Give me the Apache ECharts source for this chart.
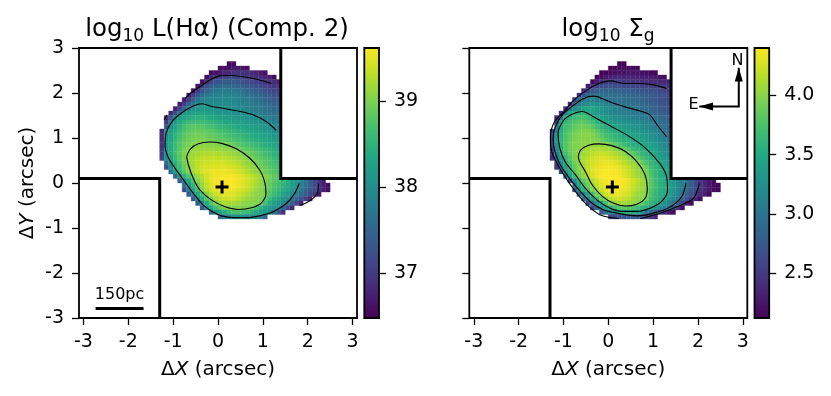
<!DOCTYPE html>
<html>
<head>
<meta charset="utf-8">
<style>
  html, body { margin: 0; padding: 0; background: #fff; }
  #chart { width: 831px; height: 396px; }
</style>
</head>
<body>
<div id="chart"></div>
<script src="https://cdn.jsdelivr.net/npm/echarts@6/dist/echarts.min.js"></script>
<script>
// cell centres, one entry per row from the top of the map down
const rowY = [2.65, 2.55, 2.45, 2.35, 2.25, 2.15, 2.05, 1.95, 1.85, 1.75, 1.65, 1.55, 1.45, 1.35, 1.25, 1.15, 1.05, 0.95, 0.85, 0.75, 0.65, 0.55, 0.45, 0.35, 0.25, 0.15, 0.05, -0.05, -0.15, -0.25, -0.35, -0.45, -0.55, -0.65, -0.75];
const rowStartX = [0.25, 0.05, -0.15, -0.25, -0.35, -0.45, -0.55, -0.65, -0.75, -0.85, -0.95, -1.05, -1.15, -1.15, -1.15, -1.25, -1.25, -1.25, -1.25, -1.25, -1.25, -1.25, -1.15, -1.15, -1.05, -0.95, -0.85, -0.75, -0.75, -0.65, -0.55, -0.45, -0.35, -0.15, 0.05];
const cellSize = 0.1;

// log L(Halpha)
const lhaRows = [
  [36.55, 36.55],
  [36.6, 36.62, 36.65, 36.68, 36.68, 36.65, 36.6],
  [36.55, 36.6, 36.7, 36.8, 36.85, 36.9, 36.92, 36.9, 36.88, 36.83, 36.78, 36.7, 36.6],
  [36.6, 36.85, 37.0, 37.1, 37.14, 37.17, 37.17, 37.12, 37.06, 37.0, 36.96, 36.92, 36.88, 36.82, 36.73, 36.6],
  [36.6, 36.9, 37.12, 37.25, 37.32, 37.37, 37.37, 37.35, 37.3, 37.25, 37.2, 37.13, 37.07, 37.0, 36.96, 36.92, 36.88, 36.75],
  [36.65, 37.0, 37.25, 37.42, 37.5, 37.55, 37.58, 37.58, 37.55, 37.5, 37.45, 37.38, 37.32, 37.25, 37.18, 37.12, 37.05, 37.0, 36.95],
  [36.65, 37.0, 37.3, 37.5, 37.62, 37.7, 37.75, 37.78, 37.76, 37.72, 37.67, 37.62, 37.55, 37.48, 37.42, 37.35, 37.27, 37.2, 37.13, 37.08],
  [36.7, 37.05, 37.35, 37.6, 37.75, 37.83, 37.88, 37.9, 37.92, 37.9, 37.87, 37.82, 37.76, 37.7, 37.65, 37.58, 37.5, 37.43, 37.35, 37.28, 37.22],
  [36.7, 37.05, 37.4, 37.65, 37.82, 37.88, 37.92, 37.94, 37.95, 37.95, 37.94, 37.92, 37.88, 37.83, 37.77, 37.72, 37.65, 37.58, 37.52, 37.45, 37.38, 37.32],
  [36.75, 37.05, 37.45, 37.75, 37.95, 38.02, 37.99, 37.98, 37.99, 37.98, 37.97, 37.96, 37.95, 37.93, 37.88, 37.83, 37.78, 37.72, 37.65, 37.6, 37.55, 37.47, 37.42],
  [36.75, 37.1, 37.5, 37.85, 38.03, 38.12, 38.15, 38.12, 38.08, 38.05, 38.02, 38.0, 37.98, 37.97, 37.95, 37.92, 37.88, 37.83, 37.78, 37.72, 37.66, 37.6, 37.55, 37.5],
  [36.8, 37.2, 37.75, 38.07, 38.18, 38.26, 38.3, 38.3, 38.26, 38.2, 38.16, 38.12, 38.09, 38.06, 38.03, 38.01, 37.99, 37.95, 37.9, 37.85, 37.8, 37.74, 37.68, 37.62, 37.57],
  [36.85, 37.35, 37.95, 38.15, 38.3, 38.38, 38.45, 38.47, 38.47, 38.42, 38.36, 38.32, 38.28, 38.24, 38.2, 38.17, 38.13, 38.1, 38.07, 38.04, 38.0, 37.95, 37.88, 37.8, 37.72, 37.65],
  [37.0, 37.95, 38.18, 38.36, 38.5, 38.58, 38.63, 38.65, 38.63, 38.58, 38.53, 38.48, 38.43, 38.38, 38.34, 38.3, 38.26, 38.22, 38.18, 38.15, 38.12, 38.07, 38.01, 37.93, 37.83, 37.73],
  [37.3, 38.05, 38.3, 38.5, 38.65, 38.75, 38.8, 38.8, 38.78, 38.72, 38.68, 38.62, 38.57, 38.52, 38.47, 38.42, 38.37, 38.33, 38.29, 38.25, 38.2, 38.15, 38.1, 38.03, 37.95, 37.85],
  [36.8, 38.0, 38.22, 38.42, 38.6, 38.72, 38.82, 38.87, 38.88, 38.86, 38.83, 38.78, 38.73, 38.68, 38.63, 38.58, 38.53, 38.48, 38.43, 38.38, 38.33, 38.29, 38.24, 38.18, 38.12, 38.03, 37.95],
  [36.85, 38.05, 38.3, 38.5, 38.66, 38.8, 38.88, 38.93, 38.95, 38.94, 38.91, 38.87, 38.83, 38.78, 38.73, 38.68, 38.63, 38.58, 38.53, 38.48, 38.43, 38.38, 38.33, 38.27, 38.2, 38.12, 38.03],
  [36.9, 38.1, 38.35, 38.55, 38.72, 38.84, 38.92, 38.97, 39.0, 39.0, 38.98, 38.94, 38.9, 38.86, 38.82, 38.77, 38.72, 38.67, 38.62, 38.57, 38.52, 38.47, 38.42, 38.36, 38.29, 38.21, 38.12],
  [36.95, 38.1, 38.4, 38.6, 38.76, 38.9, 38.98, 39.02, 39.05, 39.06, 39.06, 39.04, 39.02, 39.01, 39.0, 38.95, 38.88, 38.8, 38.74, 38.68, 38.62, 38.57, 38.52, 38.46, 38.39, 38.31, 38.22],
  [37.0, 38.1, 38.4, 38.62, 38.8, 38.95, 39.05, 39.1, 39.13, 39.15, 39.15, 39.14, 39.13, 39.12, 39.1, 39.06, 39.02, 38.97, 38.9, 38.82, 38.76, 38.7, 38.64, 38.58, 38.5, 38.42, 38.33],
  [37.05, 38.05, 38.4, 38.65, 38.84, 39.0, 39.1, 39.16, 39.2, 39.23, 39.24, 39.24, 39.23, 39.22, 39.2, 39.16, 39.11, 39.06, 39.01, 38.93, 38.86, 38.8, 38.73, 38.66, 38.58, 38.5, 38.42],
  [37.1, 38.0, 38.3, 38.58, 38.8, 39.0, 39.13, 39.2, 39.26, 39.3, 39.32, 39.33, 39.33, 39.32, 39.3, 39.27, 39.22, 39.17, 39.11, 39.04, 38.96, 38.88, 38.81, 38.74, 38.66, 38.58, 38.5],
  [37.6, 38.15, 38.45, 38.72, 38.95, 39.1, 39.22, 39.3, 39.36, 39.39, 39.41, 39.42, 39.42, 39.4, 39.37, 39.33, 39.27, 39.2, 39.13, 39.05, 38.97, 38.89, 38.81, 38.73, 38.65, 38.56],
  [37.2, 38.0, 38.38, 38.65, 38.9, 39.07, 39.2, 39.31, 39.39, 39.43, 39.46, 39.48, 39.49, 39.48, 39.45, 39.41, 39.35, 39.28, 39.2, 39.12, 39.04, 38.96, 38.88, 38.8, 38.71, 38.62],
  [37.65, 38.22, 38.55, 38.82, 39.03, 39.18, 39.31, 39.41, 39.48, 39.52, 39.54, 39.55, 39.54, 39.52, 39.48, 39.42, 39.35, 39.27, 39.18, 39.1, 39.01, 38.93, 38.85, 38.76, 38.67],
  [37.5, 38.15, 38.48, 38.76, 38.98, 39.15, 39.29, 39.41, 39.5, 39.55, 39.58, 39.59, 39.59, 39.57, 39.53, 39.47, 39.4, 39.31, 39.22, 39.13, 39.04, 38.95, 38.86, 38.77],
  [37.4, 38.0, 38.35, 38.72, 39.03, 39.22, 39.38, 39.5, 39.56, 39.6, 39.62, 39.62, 39.6, 39.56, 39.5, 39.43, 39.33, 39.23, 39.12, 39.0, 38.9, 38.8, 38.7, 38.58, 38.45, 38.3, 38.12, 37.95, 37.7, 37.45, 37.2, 36.98, 36.7],
  [37.65, 38.12, 38.5, 38.92, 39.15, 39.32, 39.46, 39.55, 39.6, 39.62, 39.62, 39.6, 39.55, 39.48, 39.4, 39.3, 39.19, 39.08, 38.99, 38.87, 38.76, 38.65, 38.52, 38.38, 38.22, 38.06, 37.88, 37.65, 37.42, 37.2, 36.97, 36.75, 36.6],
  [37.2, 37.85, 38.28, 38.68, 39.05, 39.25, 39.4, 39.5, 39.56, 39.58, 39.57, 39.53, 39.48, 39.42, 39.34, 39.25, 39.14, 39.05, 38.95, 38.82, 38.7, 38.58, 38.44, 38.28, 38.11, 37.98, 37.78, 37.55, 37.35, 37.15, 36.98, 36.75, 36.6],
  [37.35, 37.95, 38.35, 38.75, 39.03, 39.25, 39.38, 39.46, 39.5, 39.5, 39.46, 39.4, 39.33, 39.25, 39.17, 39.08, 39.05, 39.0, 38.75, 38.62, 38.48, 38.32, 38.15, 38.02, 37.85, 37.62, 37.4, 37.18, 37.0, 36.7],
  [37.35, 38.0, 38.4, 38.8, 39.02, 39.2, 39.32, 39.38, 39.4, 39.37, 39.3, 39.22, 39.15, 39.08, 39.04, 39.01, 38.85, 38.62, 38.42, 38.28, 38.12, 37.98, 37.75, 37.52, 37.3, 37.08, 36.8],
  [37.4, 38.02, 38.4, 38.75, 38.98, 39.12, 39.2, 39.22, 39.2, 39.16, 39.1, 39.06, 39.04, 39.03, 39.0, 38.7, 38.42, 38.24, 38.1, 37.98, 37.75, 37.45, 37.15, 36.85],
  [37.3, 38.0, 38.35, 38.65, 38.85, 38.98, 39.03, 39.04, 39.02, 39.02, 39.0, 38.95, 38.7, 38.5, 38.35, 38.2, 38.1, 38.0, 37.6, 37.2, 36.85],
  [37.6, 38.05, 38.25, 38.45, 38.6, 38.68, 38.7, 38.68, 38.6, 38.5, 38.38, 38.25, 38.15, 38.03, 37.7, 37.3, 36.95],
  [37.55, 37.8, 37.95, 38.02, 38.03, 38.03, 38.02, 38.0, 37.95, 37.8, 37.55]
];

// log Sigma_g
const sigmaRows = [
  [2.15, 2.15],
  [2.15, 2.17, 2.18, 2.2, 2.2, 2.18, 2.16],
  [2.13, 2.15, 2.18, 2.2, 2.22, 2.24, 2.25, 2.25, 2.24, 2.22, 2.2, 2.17, 2.14],
  [2.14, 2.2, 2.28, 2.33, 2.37, 2.38, 2.38, 2.37, 2.35, 2.33, 2.32, 2.31, 2.3, 2.28, 2.25, 2.2],
  [2.16, 2.28, 2.4, 2.47, 2.52, 2.52, 2.48, 2.46, 2.45, 2.44, 2.43, 2.42, 2.41, 2.4, 2.39, 2.38, 2.36, 2.3],
  [2.3, 2.5, 2.6, 2.65, 2.68, 2.68, 2.66, 2.64, 2.62, 2.6, 2.58, 2.57, 2.56, 2.55, 2.54, 2.53, 2.52, 2.5, 2.46],
  [2.42, 2.6, 2.72, 2.8, 2.84, 2.85, 2.85, 2.84, 2.82, 2.8, 2.77, 2.75, 2.73, 2.71, 2.69, 2.67, 2.64, 2.61, 2.56, 2.52],
  [2.45, 2.72, 2.88, 2.95, 2.98, 2.99, 2.99, 2.98, 2.97, 2.95, 2.93, 2.91, 2.88, 2.85, 2.82, 2.8, 2.77, 2.74, 2.7, 2.66, 2.6],
  [2.45, 2.92, 3.03, 3.08, 3.1, 3.09, 3.05, 3.0, 2.98, 2.97, 2.96, 2.95, 2.93, 2.91, 2.88, 2.85, 2.81, 2.77, 2.73, 2.69, 2.65, 2.6],
  [2.4, 2.9, 3.08, 3.18, 3.25, 3.27, 3.25, 3.2, 3.13, 3.07, 3.02, 2.98, 2.97, 2.96, 2.95, 2.92, 2.89, 2.86, 2.82, 2.78, 2.73, 2.69, 2.64],
  [2.4, 3.02, 3.22, 3.35, 3.42, 3.46, 3.45, 3.4, 3.32, 3.25, 3.18, 3.12, 3.07, 3.03, 3.01, 2.99, 2.97, 2.94, 2.91, 2.87, 2.83, 2.78, 2.73, 2.68],
  [2.4, 3.1, 3.47, 3.53, 3.58, 3.6, 3.5, 3.43, 3.35, 3.28, 3.22, 3.17, 3.13, 3.1, 3.08, 3.06, 3.04, 3.02, 3.0, 2.95, 2.9, 2.85, 2.8, 2.75, 2.7],
  [2.35, 3.05, 3.5, 3.62, 3.68, 3.72, 3.73, 3.67, 3.55, 3.47, 3.4, 3.34, 3.29, 3.25, 3.21, 3.18, 3.15, 3.12, 3.09, 3.06, 3.03, 3.01, 2.97, 2.91, 2.85, 2.8],
  [2.55, 3.4, 3.6, 3.7, 3.76, 3.8, 3.82, 3.78, 3.68, 3.57, 3.49, 3.43, 3.38, 3.34, 3.3, 3.27, 3.24, 3.21, 3.18, 3.15, 3.11, 3.06, 3.0, 2.95, 2.89, 2.83],
  [3.05, 3.52, 3.68, 3.76, 3.83, 3.88, 3.9, 3.88, 3.8, 3.7, 3.6, 3.53, 3.48, 3.43, 3.39, 3.35, 3.32, 3.29, 3.26, 3.22, 3.18, 3.12, 3.05, 2.98, 2.92, 2.86],
  [2.52, 3.1, 3.55, 3.72, 3.8, 3.88, 3.93, 3.96, 3.96, 3.9, 3.82, 3.72, 3.63, 3.57, 3.52, 3.48, 3.44, 3.41, 3.38, 3.34, 3.3, 3.26, 3.2, 3.14, 3.06, 2.98, 2.91],
  [2.55, 3.25, 3.57, 3.75, 3.85, 3.92, 3.97, 3.99, 3.99, 3.96, 3.89, 3.8, 3.72, 3.65, 3.6, 3.55, 3.5, 3.47, 3.44, 3.41, 3.37, 3.33, 3.28, 3.2, 3.12, 3.04, 2.96],
  [2.58, 3.3, 3.6, 3.77, 3.87, 3.94, 3.98, 3.99, 3.99, 3.98, 3.95, 3.87, 3.8, 3.73, 3.67, 3.62, 3.57, 3.53, 3.49, 3.46, 3.42, 3.38, 3.33, 3.27, 3.19, 3.11, 3.03],
  [2.58, 3.28, 3.6, 3.78, 3.89, 3.95, 3.98, 3.99, 3.99, 4.01, 4.02, 4.01, 4.0, 3.9, 3.82, 3.74, 3.68, 3.6, 3.55, 3.52, 3.49, 3.45, 3.4, 3.34, 3.26, 3.18, 3.09],
  [2.52, 3.2, 3.55, 3.78, 3.9, 3.96, 3.99, 4.03, 4.08, 4.1, 4.12, 4.12, 4.1, 4.06, 4.01, 3.95, 3.86, 3.77, 3.68, 3.6, 3.55, 3.5, 3.45, 3.4, 3.32, 3.23, 3.14],
  [2.48, 3.1, 3.45, 3.7, 3.87, 3.96, 4.0, 4.07, 4.13, 4.17, 4.2, 4.2, 4.19, 4.16, 4.12, 4.07, 4.01, 3.92, 3.82, 3.72, 3.63, 3.56, 3.5, 3.44, 3.37, 3.28, 3.19],
  [2.4, 2.95, 3.32, 3.58, 3.8, 3.95, 4.02, 4.1, 4.17, 4.22, 4.26, 4.27, 4.27, 4.25, 4.21, 4.16, 4.1, 4.03, 3.95, 3.85, 3.75, 3.65, 3.57, 3.5, 3.43, 3.34, 3.25],
  [2.65, 3.2, 3.5, 3.72, 3.9, 4.0, 4.1, 4.19, 4.25, 4.29, 4.32, 4.33, 4.32, 4.29, 4.24, 4.18, 4.11, 4.05, 4.0, 3.87, 3.75, 3.63, 3.56, 3.49, 3.4, 3.31],
  [2.45, 3.0, 3.38, 3.63, 3.85, 3.98, 4.08, 4.19, 4.27, 4.32, 4.35, 4.37, 4.37, 4.35, 4.31, 4.25, 4.18, 4.11, 4.04, 3.98, 3.85, 3.7, 3.6, 3.53, 3.45, 3.36],
  [2.72, 3.22, 3.53, 3.78, 3.95, 4.07, 4.18, 4.27, 4.34, 4.38, 4.4, 4.4, 4.38, 4.35, 4.29, 4.22, 4.14, 4.06, 4.01, 3.92, 3.75, 3.63, 3.54, 3.47, 3.39],
  [2.88, 3.4, 3.68, 3.9, 4.04, 4.16, 4.26, 4.34, 4.39, 4.41, 4.41, 4.39, 4.36, 4.3, 4.23, 4.15, 4.08, 4.02, 3.95, 3.78, 3.64, 3.55, 3.49, 3.41],
  [2.65, 3.2, 3.58, 3.82, 3.98, 4.12, 4.24, 4.33, 4.38, 4.41, 4.42, 4.41, 4.38, 4.32, 4.25, 4.17, 4.09, 4.0, 3.82, 3.68, 3.58, 3.51, 3.42, 3.32, 3.2, 3.08, 2.95, 2.8, 2.62, 2.46, 2.36, 2.28, 2.2],
  [3.0, 3.45, 3.7, 3.9, 4.03, 4.18, 4.29, 4.36, 4.4, 4.41, 4.4, 4.36, 4.3, 4.22, 4.14, 4.06, 4.01, 3.82, 3.68, 3.58, 3.51, 3.42, 3.31, 3.19, 3.07, 2.96, 2.78, 2.6, 2.48, 2.37, 2.28, 2.2, 2.16],
  [2.75, 3.28, 3.56, 3.78, 3.95, 4.08, 4.22, 4.31, 4.37, 4.39, 4.38, 4.34, 4.28, 4.2, 4.12, 4.05, 4.0, 3.8, 3.66, 3.56, 3.5, 3.41, 3.29, 3.17, 3.05, 2.95, 2.76, 2.6, 2.47, 2.37, 2.28, 2.2, 2.15],
  [2.8, 3.15, 3.45, 3.67, 3.93, 4.1, 4.22, 4.3, 4.33, 4.33, 4.29, 4.23, 4.15, 4.07, 4.02, 3.99, 3.76, 3.63, 3.55, 3.5, 3.4, 3.27, 3.14, 3.02, 2.85, 2.68, 2.52, 2.4, 2.3, 2.2],
  [2.88, 3.12, 3.42, 3.65, 3.88, 4.05, 4.16, 4.22, 4.24, 4.2, 4.15, 4.09, 4.03, 4.01, 3.9, 3.7, 3.6, 3.53, 3.42, 3.32, 3.18, 3.05, 2.9, 2.72, 2.52, 2.38, 2.2],
  [2.6, 2.98, 3.28, 3.47, 3.72, 3.95, 4.05, 4.08, 4.08, 4.06, 4.03, 4.0, 3.85, 3.72, 3.62, 3.54, 3.42, 3.28, 3.15, 3.01, 2.78, 2.58, 2.38, 2.2],
  [2.55, 2.95, 3.2, 3.42, 3.52, 3.68, 3.78, 3.82, 3.8, 3.75, 3.68, 3.6, 3.53, 3.42, 3.3, 3.2, 3.1, 3.02, 2.65, 2.48, 2.2],
  [2.75, 2.97, 3.12, 3.28, 3.42, 3.5, 3.52, 3.52, 3.48, 3.3, 3.05, 2.9, 2.75, 2.55, 2.42, 2.3, 2.18],
  [2.55, 2.62, 2.68, 2.72, 2.75, 2.76, 2.74, 2.7, 2.6, 2.5, 2.35]
];

// contour lines, [x, y] in arcsec
const lhaContours = [
  [[-0.70,0.585],[-0.62,0.75],[-0.44,0.87],[-0.18,0.91],[0.08,0.88],[0.41,0.76],[0.71,0.55],[0.93,0.29],[1.04,0.03],[1.07,-0.23],[0.97,-0.44],[0.75,-0.55],[0.45,-0.59],[0.16,-0.53],[-0.14,-0.38],[-0.40,-0.16],[-0.55,0.10],[-0.66,0.40],[-0.70,0.585]],
  [[1.30,1.17],[1.08,1.36],[0.82,1.50],[0.49,1.59],[0.12,1.66],[-0.14,1.70],[-0.36,1.76],[-0.55,1.71],[-0.81,1.56],[-1.03,1.36],[-1.16,1.10],[-1.18,0.81],[-1.10,0.55],[-0.96,0.33],[-0.77,0.07],[-0.55,-0.23],[-0.33,-0.49],[-0.10,-0.65],[0.08,-0.73],[0.34,-0.77],[0.64,-0.77],[0.93,-0.73],[1.23,-0.64],[1.53,-0.45],[1.71,-0.23],[1.81,-0.01]],
  [[1.19,2.21],[0.93,2.29],[0.64,2.35],[0.30,2.39],[0.04,2.38],[-0.18,2.29],[-0.40,2.14],[-0.62,1.99],[-0.73,1.88]],
  [[-1.20,1.40],[-1.14,1.51]],
  [[2.24,-0.01],[2.23,-0.19],[2.12,-0.34],[1.97,-0.44],[1.82,-0.50]]
];
const sigmaContours = [
  [[-0.67,0.585],[-0.62,0.73],[-0.44,0.84],[-0.21,0.87],[0.08,0.83],[0.38,0.70],[0.64,0.47],[0.82,0.18],[0.87,-0.12],[0.82,-0.34],[0.64,-0.47],[0.38,-0.51],[0.12,-0.45],[-0.14,-0.29],[-0.36,-0.04],[-0.51,0.25],[-0.64,0.47],[-0.67,0.585]],
  [[-0.33,1.47],[0.04,1.27],[0.41,1.07],[0.79,0.81],[1.12,0.47],[1.29,0.18],[1.32,-0.16],[1.19,-0.41],[0.93,-0.56],[0.64,-0.63],[0.34,-0.63],[0.04,-0.56],[-0.25,-0.38],[-0.51,-0.12],[-0.73,0.18],[-0.96,0.47],[-1.08,0.77],[-1.12,1.10],[-0.99,1.40],[-0.81,1.53],[-0.59,1.59],[-0.33,1.47]],
  [[1.30,1.03],[1.12,1.25],[0.93,1.51],[0.71,1.60],[0.41,1.68],[0.12,1.77],[-0.14,1.88],[-0.33,1.93],[-0.55,1.88],[-0.81,1.70],[-1.03,1.51],[-1.18,1.25],[-1.23,0.99],[-1.20,0.73],[-1.07,0.40],[-0.84,0.07],[-0.62,-0.19],[-0.36,-0.45],[-0.10,-0.60],[0.19,-0.67],[0.64,-0.73],[1.01,-0.67],[1.38,-0.53],[1.64,-0.30],[1.73,-0.01]],
  [[1.30,2.10],[1.01,2.18],[0.64,2.21],[0.38,2.21],[0.04,2.27],[-0.21,2.21],[-0.47,2.07],[-0.77,1.84],[-0.99,1.58],[-1.20,1.36],[-1.29,1.03],[-1.27,0.73],[-1.10,0.36],[-0.92,0.07],[-0.70,-0.23],[-0.47,-0.49],[-0.18,-0.71],[0.23,-0.79]],
  [[0.71,-0.79],[1.16,-0.67],[1.53,-0.53],[1.90,-0.34],[2.03,-0.01]]
];

// the two masked areas
const maskUpper = [[1.4, 3], [1.4, 0.1], [3.1, 0.1]];
const maskLower = [[-3.1, 0.1], [-1.3, 0.1], [-1.3, -3]];
const centre = [[0.09, -0.09]];
const scaleBar = [[-2.73, -2.79], [-1.66, -2.79]];
const scaleText = [[-2.195, -2.48, '150pc']];
const compassLine = [[2.03, 1.7], [2.91, 1.7], [2.91, 2.56]];
const compassTips = [[2.91, 2.41, 0], [2.18, 1.7, 90]];
const compassText = [[2.88, 2.72, 'N'], [1.9, 1.73, 'E']];

const axisTicks = [-3, -2, -1, 0, 1, 2, 3];
const lhaRange = [36.48, 39.62];
const lhaTicks = [37, 38, 39];
const sigmaRange = [2.12, 4.40];
const sigmaTicks = [2.5, 3, 3.5, 4];

const viridis = ['#440154', '#482475', '#414487', '#355f8d', '#2a788e', '#21918c', '#22a884', '#44bf70', '#7ad151', '#bddf26', '#fde725'];

const font = 'DejaVu Sans';
const tickSize = 19;

function cells(rows) {
  const out = [];
  rows.forEach(function (row, r) {
    row.forEach(function (v, c) {
      out.push([rowStartX[r] + c * cellSize, rowY[r], v]);
    });
  });
  return out;
}

function drawCell(params, api) {
  const x = api.value(0), y = api.value(1), h = cellSize / 2;
  const a = api.coord([x - h, y + h]);
  const b = api.coord([x + h, y - h]);
  const color = api.visual('color');
  return {
    type: 'rect',
    shape: { x: a[0], y: a[1], width: b[0] - a[0], height: b[1] - a[1] },
    style: { fill: color, stroke: color, lineWidth: 0.35 }
  };
}

function drawBar(params, api) {
  const a = api.coord([0, api.value(1)]);
  const b = api.coord([1, api.value(0)]);
  return {
    type: 'rect',
    shape: { x: a[0], y: a[1], width: b[0] - a[0], height: b[1] - a[1] },
    style: {
      fill: new echarts.graphic.LinearGradient(0, 1, 0, 0, viridis.map(function (c, i) {
        return { offset: i / (viridis.length - 1), color: c };
      })),
      stroke: '#000',
      lineWidth: 1.8
    }
  };
}

function xAxisFor(gridIndex) {
  return {
    type: 'value', gridIndex: gridIndex, min: -3.1, max: 3.1,
    splitLine: { show: false },
    axisLine: { show: false, onZero: false },
    axisTick: { show: true, length: 7, lineStyle: { color: '#000', width: 1.3 }, customValues: axisTicks },
    axisLabel: { color: '#000', fontFamily: font, fontSize: tickSize, margin: 15, customValues: axisTicks },
    name: '{d|\u0394}{i|X}{d| (arcsec)}', nameLocation: 'middle', nameGap: 42,
    nameTextStyle: {
      rich: {
        d: { fontFamily: font, fontSize: 20, color: '#000' },
        i: { fontFamily: font, fontSize: 20, fontStyle: 'italic', color: '#000' }
      }
    }
  };
}

function yAxisFor(gridIndex, labelled) {
  const axis = {
    type: 'value', gridIndex: gridIndex, min: -3, max: 3, interval: 1,
    splitLine: { show: false },
    axisLine: { show: false, onZero: false },
    axisTick: { show: true, length: 7, lineStyle: { color: '#000', width: 1.3 } },
    axisLabel: { show: labelled, color: '#000', fontFamily: font, fontSize: tickSize, margin: 15, padding: [6, 0, 0, 0] }
  };
  if (labelled) {
    axis.name = '{d|\u0394}{i|Y}{d| (arcsec)}';
    axis.nameLocation = 'middle';
    axis.nameRotate = 90;
    axis.nameGap = 41;
    axis.nameTextStyle = {
      rich: {
        d: { fontFamily: font, fontSize: 20, color: '#000' },
        i: { fontFamily: font, fontSize: 20, fontStyle: 'italic', color: '#000' }
      }
    };
  }
  return axis;
}

function barAxis(gridIndex, range, ticks, digits) {
  return {
    type: 'value', gridIndex: gridIndex, position: 'right', min: range[0], max: range[1],
    splitLine: { show: false },
    axisLine: { show: false, onZero: false },
    axisTick: { show: true, length: 7, lineStyle: { color: '#000', width: 1.3 }, customValues: ticks },
    axisLabel: {
      color: '#000', fontFamily: font, fontSize: tickSize, margin: 15, customValues: ticks, padding: [5, 0, 0, 0],
      formatter: function (v) { return v.toFixed(digits); }
    }
  };
}

function panelSeries(axisIndex, rows, contours) {
  const list = [{
    type: 'custom', xAxisIndex: axisIndex, yAxisIndex: axisIndex,
    renderItem: drawCell, data: cells(rows), encode: { x: 0, y: 1 }, silent: true
  }];
  contours.forEach(function (line) {
    list.push({
      type: 'line', xAxisIndex: axisIndex, yAxisIndex: axisIndex, data: line,
      symbol: 'none', smooth: 0.3, silent: true, lineStyle: { color: '#000', width: 1.1 }
    });
  });
  [maskUpper, maskLower].forEach(function (line) {
    list.push({
      type: 'line', xAxisIndex: axisIndex, yAxisIndex: axisIndex, data: line,
      symbol: 'none', silent: true, lineStyle: { color: '#000', width: 3, join: 'miter', cap: 'butt' }
    });
  });
  list.push({
    type: 'scatter', xAxisIndex: axisIndex, yAxisIndex: axisIndex, data: centre, silent: true,
    symbol: 'path://M5 0H8V5H13V8H8V13H5V8H0V5H5Z', symbolSize: 13, itemStyle: { color: '#000', opacity: 1 }
  });
  return list;
}

const series = []
  .concat(panelSeries(0, lhaRows, lhaContours))
  .concat(panelSeries(1, sigmaRows, sigmaContours));

// scale bar on the left panel
series.push({
  type: 'line', xAxisIndex: 0, yAxisIndex: 0, data: scaleBar, symbol: 'none', silent: true,
  lineStyle: { color: '#000', width: 3, cap: 'butt' }
});
series.push({
  type: 'scatter', xAxisIndex: 0, yAxisIndex: 0, data: scaleText, symbolSize: 0, silent: true, itemStyle: { opacity: 1 },
  label: { show: true, position: 'inside', formatter: function (p) { return p.value[2]; }, color: '#000', opacity: 1, fontFamily: font, fontSize: 16 }
});

// compass on the right panel
series.push({
  type: 'line', xAxisIndex: 1, yAxisIndex: 1, data: compassLine, symbol: 'none', silent: true,
  lineStyle: { color: '#000', width: 2, join: 'miter', cap: 'butt' }
});
series.push({
  type: 'scatter', xAxisIndex: 1, yAxisIndex: 1, data: compassTips, silent: true, symbol: 'triangle', symbolSize: [8, 14],
  symbolRotate: function (v) { return v[2]; }, itemStyle: { color: '#000', opacity: 1 }
});
series.push({
  type: 'scatter', xAxisIndex: 1, yAxisIndex: 1, data: compassText, symbolSize: 0, silent: true, itemStyle: { opacity: 1 },
  label: { show: true, position: 'inside', formatter: function (p) { return p.value[2]; }, color: '#000', opacity: 1, fontFamily: font, fontSize: 16 }
});

// colour bars
series.push({ type: 'custom', xAxisIndex: 2, yAxisIndex: 2, renderItem: drawBar, data: [lhaRange], encode: { y: [0, 1] }, silent: true });
series.push({ type: 'custom', xAxisIndex: 3, yAxisIndex: 3, renderItem: drawBar, data: [sigmaRange], encode: { y: [0, 1] }, silent: true });

const titleRich = {
  m: { fontFamily: font, fontSize: 24.5, fontWeight: 'normal', color: '#000', lineHeight: 30 },
  s: { fontFamily: font, fontSize: 17, fontWeight: 'normal', color: '#000', lineHeight: 30, verticalAlign: 'bottom', padding: [10, 0, 0, 0] }
};
const frame = { show: true, borderColor: '#000', borderWidth: 1.8, backgroundColor: '#fff' };

const option = {
  animation: false,
  backgroundColor: '#fff',
  title: [
    { text: '{m|log}{s|10}{m| L(H\u03b1) (Comp. 2)}', left: 212, top: 10, textAlign: 'center', textStyle: { fontWeight: 'normal', rich: titleRich } },
    { text: '{m|log}{s|10}{m| \u03a3}{s|g}', left: 603, top: 10, textAlign: 'center', textStyle: { fontWeight: 'normal', rich: titleRich } }
  ],
  grid: [
    Object.assign({ left: 79, top: 48, width: 278, height: 270 }, frame),
    Object.assign({ left: 469.3, top: 48, width: 278, height: 270 }, frame),
    { left: 364.3, top: 48, width: 14.7, height: 270 },
    { left: 754.5, top: 48, width: 14.7, height: 270 }
  ],
  xAxis: [
    xAxisFor(0),
    xAxisFor(1),
    { type: 'value', gridIndex: 2, min: 0, max: 1, show: false },
    { type: 'value', gridIndex: 3, min: 0, max: 1, show: false }
  ],
  yAxis: [
    yAxisFor(0, true),
    yAxisFor(1, false),
    barAxis(2, lhaRange, lhaTicks, 0),
    barAxis(3, sigmaRange, sigmaTicks, 1)
  ],
  visualMap: [
    { show: false, type: 'continuous', seriesIndex: 0, dimension: 2, min: lhaRange[0], max: lhaRange[1], inRange: { color: viridis } },
    { show: false, type: 'continuous', seriesIndex: 1 + lhaContours.length + 3, dimension: 2, min: sigmaRange[0], max: sigmaRange[1], inRange: { color: viridis } }
  ],
  series: series
};

const chart = echarts.init(document.getElementById('chart'), null, { renderer: 'canvas' });
chart.setOption(option);
</script>
</body>
</html>
